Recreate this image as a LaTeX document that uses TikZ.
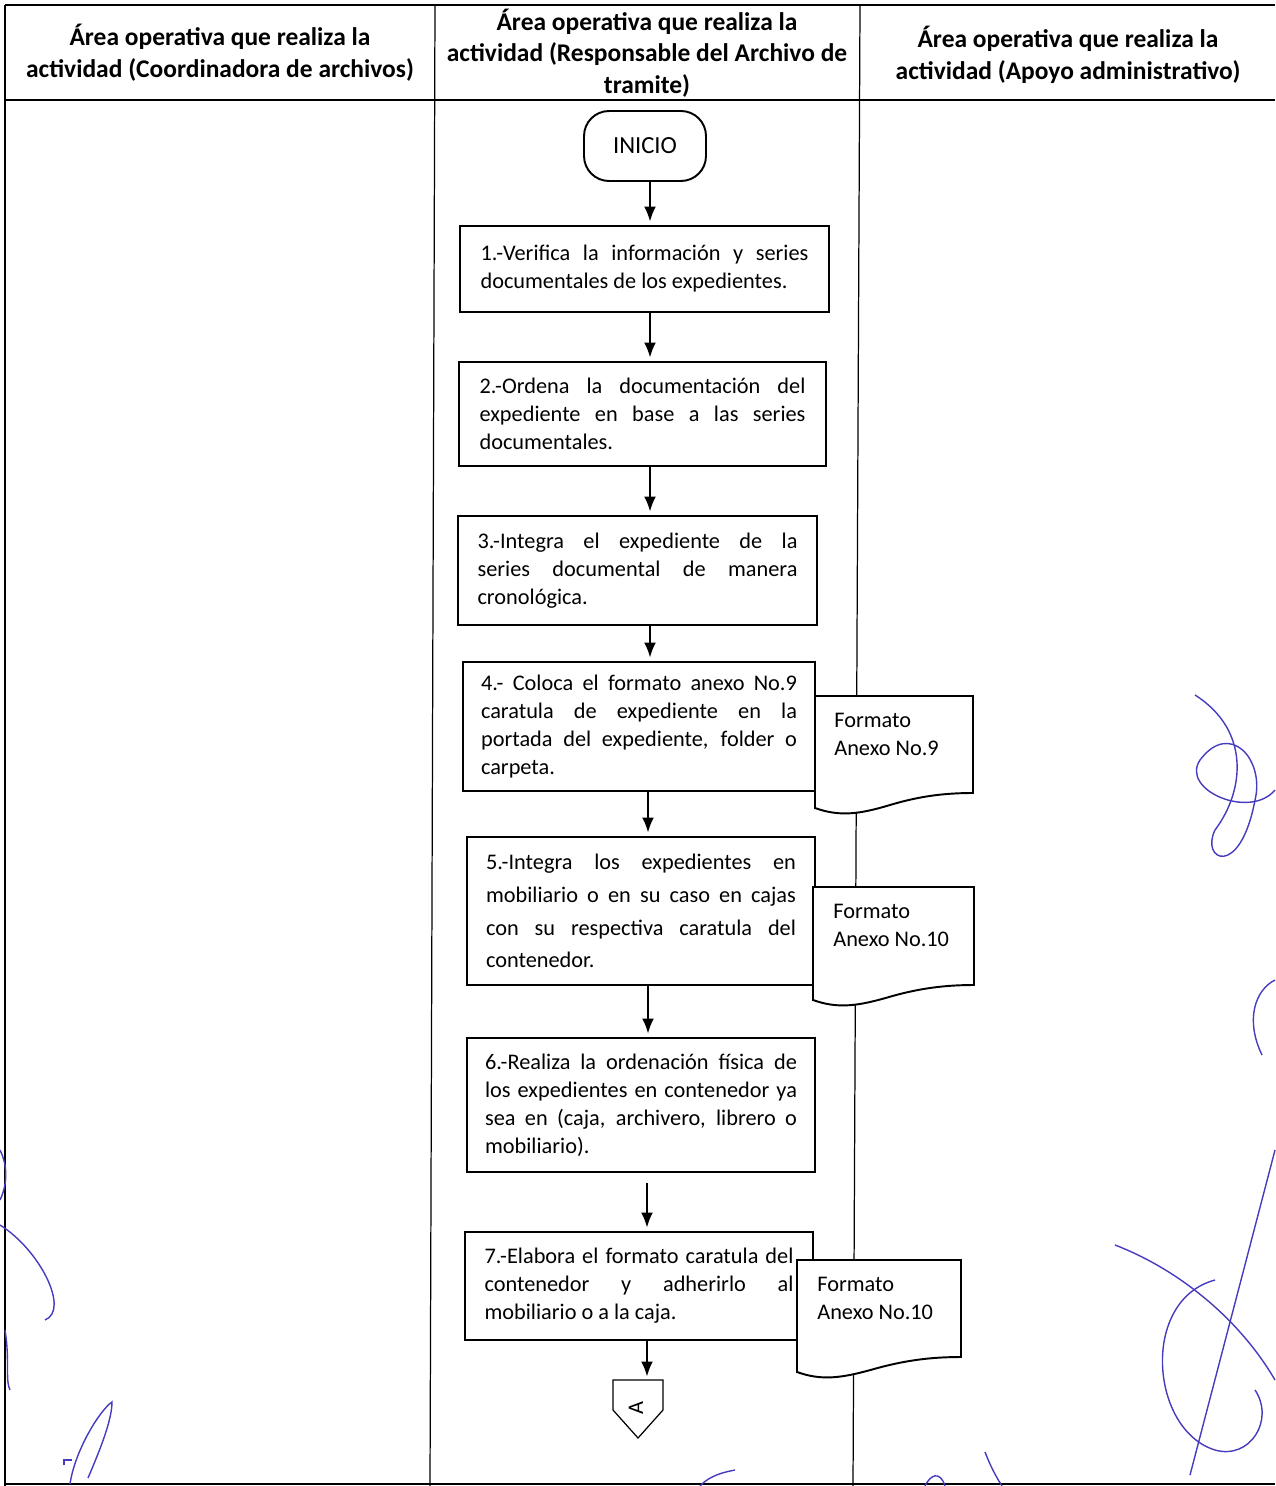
\documentclass[tikz,border=0pt]{standalone}
\usepackage{fontspec}
\setmainfont{Carlito}
\usetikzlibrary{arrows.meta}
\definecolor{tinta}{RGB}{70,60,190}
\hyphenpenalty=10000
\exhyphenpenalty=10000
\begin{document}
\begin{tikzpicture}[x=0.02cm,y=-0.02cm]

\def\tam{\fontsize{12.7}{15.9}\selectfont}
\tikzstyle{caja} = [draw, line width=1.1pt, rectangle, inner sep=0pt, align=justify, font=\tam];
\tikzstyle{titulo} = [align=center, inner sep=0pt, font=\fontsize{14.5}{18}\selectfont\bfseries];
\tikzstyle{flecha} = [-{Latex[length=3mm,width=2.4mm]}, line width=1.1pt, shorten >=2pt];
\tikzstyle{linea} = [line width=0.7pt];
\tikzstyle{docu} = [draw, line width=1.1pt, fill=white];
\tikzstyle{doctxt} = [anchor=north west, inner sep=0pt, align=left, font=\tam];
\tikzstyle{firma} = [draw=tinta, line width=0.8pt];
\useasboundingbox (0,0) rectangle (1275,1486);

\draw[linea] (5,5) -- (1275,5);
\draw[linea] (5,100) -- (1275,100);
\draw[linea] (5,5) -- (5,1486);
\draw[linea] (435,5) -- (430,1486);
\draw[linea] (860,5) -- (853,1486);
\draw[linea] (5,1484) -- (1275,1484);

\node[titulo] (t1) at (220,53) {Área operativa que realiza la\\actividad (Coordinadora de archivos)};
\node[titulo] (t2) at (647,53) {Área operativa que realiza la\\actividad (Responsable del Archivo de\\tramite)};
\node[titulo] (t3) at (1068,55) {Área operativa que realiza la\\actividad (Apoyo administrativo)};

\node[draw, line width=1.1pt, rounded corners=0.5cm, minimum width=2.44cm,
  minimum height=1.4cm, font=\fontsize{14}{17}\selectfont] (a0) at (645,146) {INICIO};

\node[caja, minimum width=7.38cm, minimum height=1.72cm, text width=6.56cm] (a1) at (644.5,269)
  {1.-Verifica la información y series\linebreak documentales de los expedientes.};
\node[caja, minimum width=7.34cm, minimum height=2.08cm, text width=6.52cm] (a2) at (642.5,414)
  {2.-Ordena la documentación del\linebreak expediente en base a las series\linebreak documentales.};
\node[caja, minimum width=7.18cm, minimum height=2.18cm, text width=6.4cm] (a3) at (637.5,570.5)
  {3.-Integra el expediente de la\linebreak series documental de manera\linebreak cronológica.};
\node[caja, minimum width=7.04cm, minimum height=2.58cm, text width=6.32cm] (a4) at (639,726.5)
  {4.- Coloca el formato anexo No.9\linebreak caratula de expediente en la\linebreak portada del expediente, folder o\linebreak carpeta.};
\node[caja, minimum width=6.96cm, minimum height=2.96cm, text width=6.2cm,
  font=\fontsize{12.7}{18.7}\selectfont] (a5) at (641,911)
  {5.-Integra los expedientes en\linebreak mobiliario o en su caso en cajas\linebreak con su respectiva caratula del\linebreak contenedor.};
\node[caja, minimum width=6.96cm, minimum height=2.68cm, text width=6.24cm] (a6) at (641,1105)
  {6.-Realiza la ordenación física de\linebreak los expedientes en contenedor ya\linebreak sea en (caja, archivero, librero o\linebreak mobiliario).};
\node[caja, minimum width=6.96cm, minimum height=2.16cm, text width=6.18cm] (a7) at (639,1286)
  {7.-Elabora el formato caratula del\linebreak contenedor y adherirlo al\linebreak mobiliario o a la caja.};

\draw[docu] (815,696) -- (973,696) -- (973,793)
  .. controls (945,793) and (920,796) .. (890,805)
  .. controls (860,814) and (840,817) .. (815,808) -- cycle;
\node[doctxt] (d1) at (834,713) {Formato\\Anexo No.9};
\draw[docu] (813,887) -- (974,887) -- (974,985)
  .. controls (946,985) and (920,988) .. (889,997)
  .. controls (858,1006) and (838,1009) .. (813,1000) -- cycle;
\node[doctxt] (d2) at (833,904) {Formato\\Anexo No.10};
\draw[docu] (797,1260) -- (961,1260) -- (961,1357)
  .. controls (932,1357) and (906,1360) .. (874,1369)
  .. controls (842,1378) and (822,1381) .. (797,1372) -- cycle;
\node[doctxt] (d3) at (817,1277) {Formato\\Anexo No.10};

\draw[linea] (613,1380) -- (663,1380) -- (663,1410) -- (638,1438) -- (613,1410) -- cycle;
\node[font=\tam, rotate=90, inner sep=0pt] (c1) at (636,1408) {A};
\coordinate (c0) at (638,1380);

\coordinate (e1) at (650,0);
\coordinate (e2) at (648,0);
\coordinate (e3) at (647,0);
\draw[flecha] (a0.south -| e1) -- (a1.north -| e1);
\draw[flecha] (a1.south -| e1) -- (a2.north -| e1);
\draw[flecha] (a2.south -| e1) -- (a3.north -| e1);
\draw[flecha] (a3.south -| e1) -- (a4.north -| e1);
\draw[flecha] (a4.south -| e2) -- (a5.north -| e2);
\draw[flecha] (a5.south -| e2) -- (a6.north -| e2);
\draw[flecha] (a6.south -| e3) ++(0,10) -- (a7.north -| e3);
\draw[flecha] (a7.south -| e3) -- (c0 -| e3);

\draw[firma] (1195,695) .. controls (1250,730) and (1245,790) .. (1215,830)
  .. controls (1200,860) and (1240,880) .. (1255,800) .. controls (1265,760) and (1230,720) .. (1200,760)
  .. controls (1180,790) and (1250,820) .. (1275,790);
\draw[firma] (1262,1055) .. controls (1245,1020) and (1255,990) .. (1275,980);
\draw[firma] (1275,1150) -- (1190,1475);
\draw[firma] (1115,1245) .. controls (1180,1270) and (1240,1320) .. (1275,1380);
\draw[firma] (1215,1280) .. controls (1140,1300) and (1150,1430) .. (1215,1450)
  .. controls (1250,1460) and (1275,1420) .. (1255,1390);
\draw[firma] (0,1150) .. controls (10,1170) and (5,1190) .. (0,1200);
\draw[firma] (0,1225) .. controls (40,1250) and (70,1310) .. (45,1320);
\draw[firma] (5,1330) .. controls (10,1360) and (5,1380) .. (10,1390);
\draw[firma] (70,1484) .. controls (75,1450) and (100,1410) .. (112,1402)
  .. controls (112,1420) and (100,1450) .. (88,1478);
\draw[firma] (64,1465) -- (64,1460) -- (72,1460);
\draw[firma] (700,1486) .. controls (710,1475) and (725,1472) .. (735,1470);
\draw[firma] (925,1486) .. controls (930,1475) and (940,1470) .. (945,1486);
\draw[firma] (985,1452) .. controls (990,1465) and (995,1475) .. (1002,1486);

\end{tikzpicture}
\end{document}
